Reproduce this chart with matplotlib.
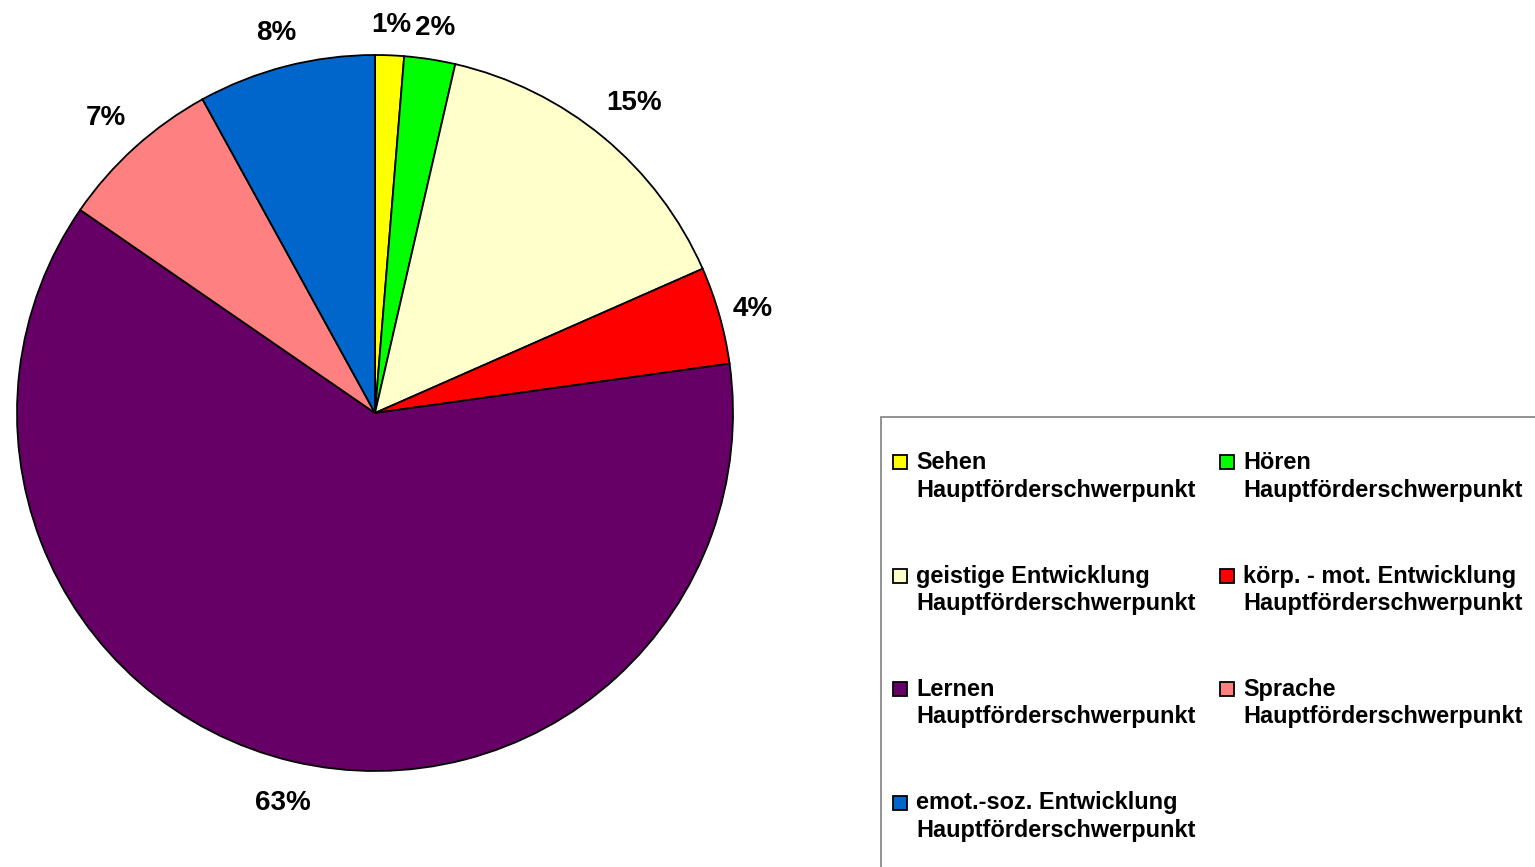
import numpy as np
import matplotlib.pyplot as plt
from matplotlib.patches import Rectangle

plt.rcParams['font.family'] = ['Liberation Sans', 'DejaVu Sans']

#=======================
# Data
#=======================
categories = ['Sehen', 'Hören', 'geistige Entwicklung', 'körp. - mot. Entwicklung',
              'Lernen', 'Sprache', 'emot.-soz. Entwicklung']
shares = [1.3, 2.3, 14.8, 4.4, 61.8, 7.4, 8.0]
pct_labels = ['1%', '2%', '15%', '4%', '63%', '7%', '8%']
suffix = 'Hauptförderschwerpunkt'
colors = ['#FFFF00', '#00FF00', '#FFFFCC', '#FF0000', '#660066', '#FF8080', '#0066CC']

# radial distance of each percentage label (in pie radii)
label_dist = [1.093, 1.095, 1.136, 1.096, 1.112, 1.121, 1.104]

#=======================
# Figure / pie
#=======================
W, H = 1535, 867
fig = plt.figure(figsize=(W / 100, H / 100), dpi=100)

cx, cy, r = 375, 413, 358
ax = fig.add_axes([(cx - r) / W, (H - cy - r) / H, 2 * r / W, 2 * r / H])
wedges, _ = ax.pie(shares, colors=colors, startangle=90, counterclock=False,
                   wedgeprops=dict(edgecolor='black', linewidth=1.3))
ax.set_xlim(-1, 1)
ax.set_ylim(-1, 1)

for w, lab, d in zip(wedges, pct_labels, label_dist):
    ang = np.deg2rad((w.theta1 + w.theta2) / 2)
    ax.text(d * np.cos(ang), d * np.sin(ang) - 0.008, lab, ha='center', va='center',
            fontsize=20, fontweight='bold', clip_on=False)

#=======================
# Legend (box runs off the right/bottom edge)
#=======================
fig.patches.append(Rectangle((881 / W, -0.1), 1.0, (H - 417) / H + 0.1,
                             transform=fig.transFigure, fill=False,
                             edgecolor='#808080', linewidth=1.2))

col_x = [916, 1243]
row_y0, row_step = 462, 113.5
for i, (cat, col) in enumerate(zip(categories, colors)):
    row, c = divmod(i, 2)
    yc = row_y0 + row * row_step
    fig.patches.append(Rectangle(((col_x[c] - 23) / W, (H - yc - 7) / H), 14 / W, 14 / H,
                                 transform=fig.transFigure, facecolor=col,
                                 edgecolor='black', linewidth=1.3))
    fig.text(col_x[c] / W, (H - yc + 11) / H, cat + '\n' + suffix,
             fontsize=16.9, fontweight='bold', ha='left', va='top', linespacing=1.25)

fig.savefig('out.png', dpi=100)
